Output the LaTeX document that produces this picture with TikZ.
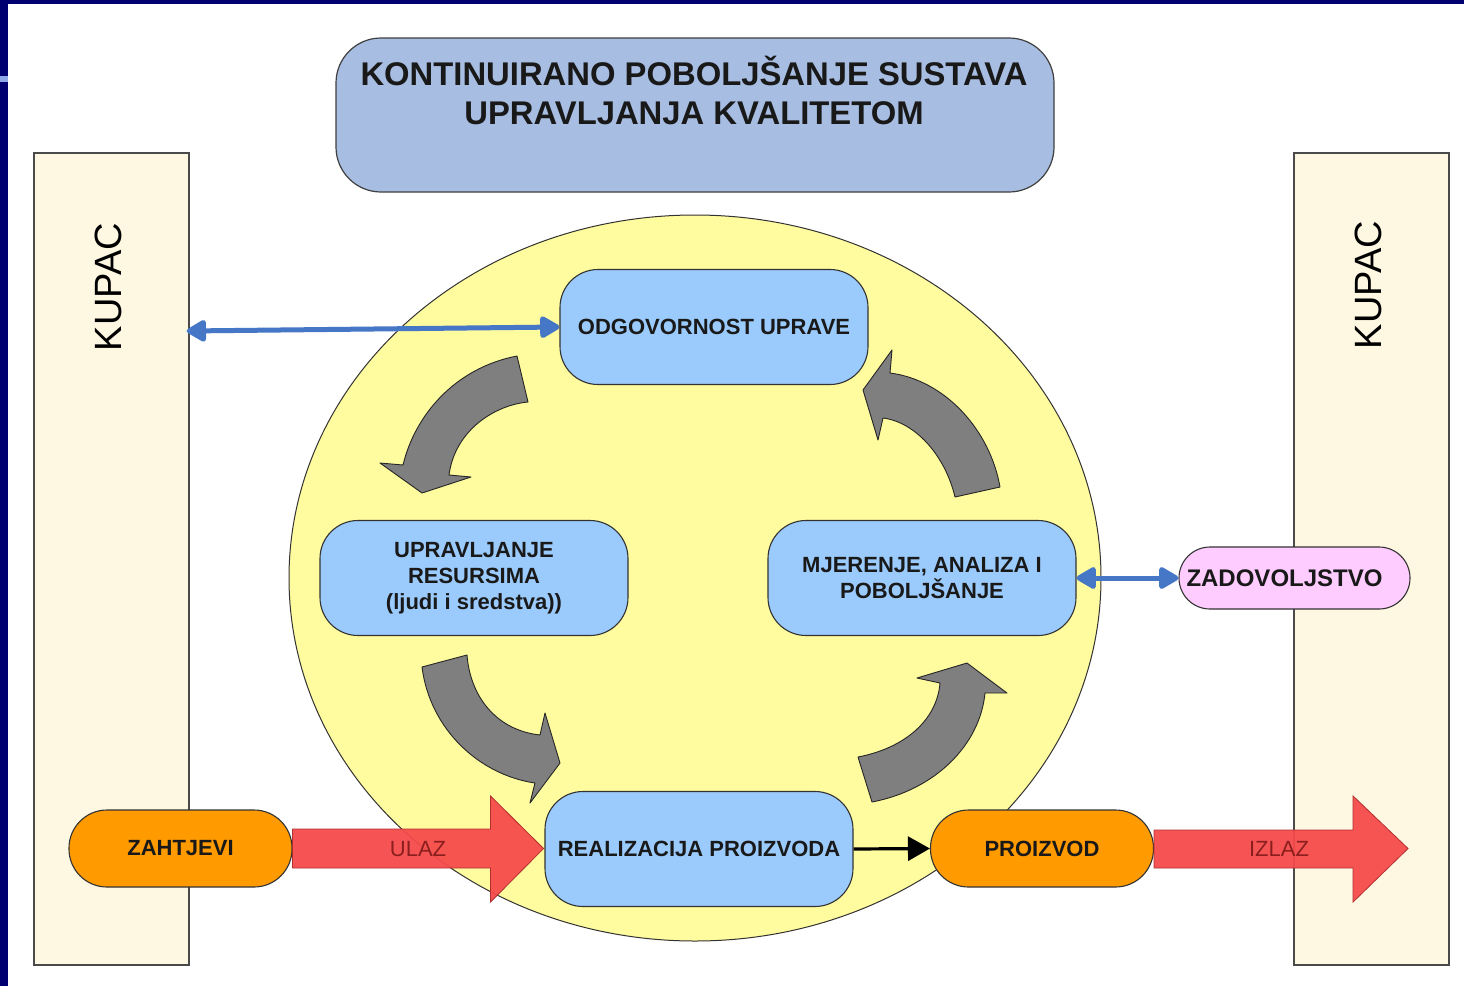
\documentclass[tikz,border=0pt]{standalone}
\usepackage{fontspec}
\setmainfont{Liberation Sans}
\usetikzlibrary{arrows.meta,shapes.geometric,calc}
\definecolor{navy}{HTML}{000070}
\definecolor{tickblue}{HTML}{8FA8E8}
\definecolor{cream}{HTML}{FEF7E2}
\definecolor{kborder}{HTML}{4A4A4A}
\definecolor{titlefill}{HTML}{A7BDE1}
\definecolor{yell}{HTML}{FFFB9F}
\definecolor{procblue}{HTML}{9BCBFC}
\definecolor{orangefill}{HTML}{FF9A00}
\definecolor{pinkfill}{HTML}{FFCCFF}
\definecolor{redfill}{HTML}{F64A4A}
\definecolor{redline}{HTML}{B03030}
\definecolor{redtext}{HTML}{8B1E1E}
\definecolor{arrowgray}{HTML}{7F7F7F}
\definecolor{linkblue}{HTML}{4676C6}
\begin{document}
\begin{tikzpicture}[x=1pt,y=-1pt,
  kupacbox/.style={draw=kborder,fill=cream,line width=1.4pt,minimum width=155pt,minimum height=812pt,inner sep=0pt},
  kupactext/.style={rotate=90,font=\fontsize{38}{42}\selectfont,text=black},
  procbox/.style={draw=black!80,fill=procblue,line width=1.1pt,rounded corners=38pt,minimum width=308pt,minimum height=115pt,align=center,inner sep=0pt,font=\bfseries\fontsize{22}{26}\selectfont,text=black!90},
  pillbox/.style={draw=black!80,line width=1.1pt,rounded corners=38pt,minimum width=223pt,minimum height=77pt,inner sep=0pt,font=\bfseries\fontsize{22}{26}\selectfont,text=black!90},
  redarrow/.style={fill=redfill,draw=redline,line width=0.8pt,fill opacity=0.94},
  redlabel/.style={font=\fontsize{22}{26}\selectfont,text=redtext},
  grayarrow/.style={fill=arrowgray,draw=black!85,line width=0.9pt,line join=round},
  bluelink/.style={draw=linkblue,line width=5pt,{Triangle[length=22pt,width=24pt,round]}-{Triangle[length=22pt,width=24pt,round]}},
  blacklink/.style={draw=black,line width=3.2pt,-{Triangle[length=22pt,width=24pt]}}
]
\useasboundingbox (0,0) rectangle (1464,986);
\fill[white] (0,0) rectangle (1464,986);
% frame
\fill[navy] (0,0) rectangle (1464,4);
\fill[navy] (0,0) rectangle (8,986);
\fill[tickblue] (0,76) rectangle (8,82);
% customer columns
\node[kupacbox] (kupL) at (111.5,559) {};
\node[kupacbox] (kupR) at (1371.5,559) {};
\node[kupactext] (kupLtext) at (108,287) {KUPAC};
\node[kupactext] (kupRtext) at (1368,285) {KUPAC};
% title
\node[draw=black!75,fill=titlefill,line width=1.2pt,rounded corners=45pt,minimum width=718pt,minimum height=154pt,inner sep=0pt] (titlebox) at (695,115) {};
\node[align=center,font=\bfseries\fontsize{32.8}{39}\selectfont,text=black!90] (titletext) at (694,90) {KONTINUIRANO POBOLJŠANJE SUSTAVA\\UPRAVLJANJA KVALITETOM};
% big ellipse
\node[draw=black!80,fill=yell,line width=1pt,ellipse,minimum width=812pt,minimum height=726pt,inner sep=0pt] (circ) at (695,578) {};
% curved gray arrows
\draw[grayarrow] (517,356) -- (528,402) .. controls (495,405) and (455,430) .. (449,475) -- (471,477) -- (422,493) -- (380,463) -- (403,465) .. controls (415,415) and (455,368) .. cycle;
\draw[grayarrow] (955,497) -- (1000,487) .. controls (990,430) and (945,380) .. (890,373) -- (892,350) -- (863,390) -- (878,440) -- (883,418) .. controls (915,422) and (945,455) .. cycle;
\draw[grayarrow] (422,667) -- (467,655) .. controls (470,695) and (495,730) .. (540,735) -- (545,713) -- (560,763) -- (530,803) -- (535,783) .. controls (480,775) and (430,730) .. cycle;
\draw[grayarrow] (858,757) -- (872,802) .. controls (935,790) and (980,745) .. (985,693) -- (1007,693) -- (967,663) -- (917,678) -- (940,683) .. controls (937,720) and (905,748) .. cycle;
% process boxes
\node[procbox] (odg) at (714,327) {ODGOVORNOST UPRAVE};
\node[procbox] (upr) at (474,578) {UPRAVLJANJE\\RESURSIMA\\(ljudi i sredstva))};
\node[procbox] (mje) at (922,578) {MJERENJE, ANALIZA I\\POBOLJŠANJE};
\node[procbox] (rea) at (699,849) {REALIZACIJA PROIZVODA};
% pills
\node[pillbox,fill=orangefill] (zah) at (180.5,848.5) {ZAHTJEVI};
\node[pillbox,fill=orangefill] (pro) at (1042,848.5) {PROIZVOD};
\node[pillbox,fill=pinkfill,rounded corners=31pt,minimum width=231pt,minimum height=62pt,font=\bfseries\fontsize{24}{28}\selectfont] (zad) at (1294.5,578) {ZADOVOLJSTVO\hspace*{20pt}};
% red block arrows
\draw[redarrow] ($(zah.east)+(0,-19.5)$) -- ($(zah.east)+(198,-19.5)$) -- ($(zah.east)+(198,-52.5)$) -- ($(zah.east)+(251,0)$) -- ($(zah.east)+(198,53.5)$) -- ($(zah.east)+(198,19.5)$) -- ($(zah.east)+(0,19.5)$) -- cycle;
\node[redlabel] (ulaz) at (418,849) {ULAZ};
\draw[redarrow] ($(pro.east)+(0,-18.5)$) -- ($(pro.east)+(199,-18.5)$) -- ($(pro.east)+(199,-52.5)$) -- ($(pro.east)+(254,0)$) -- ($(pro.east)+(199,53.5)$) -- ($(pro.east)+(199,19.5)$) -- ($(pro.east)+(0,19.5)$) -- cycle;
\node[redlabel] (izlaz) at (1279,849) {IZLAZ};
% links
\draw[bluelink] ([xshift=-3pt,yshift=228pt]kupL.east) -- (odg.west);
\draw[bluelink] (mje.east) -- (zad.west);
\draw[blacklink] (rea.east) -- (pro.west);
\end{tikzpicture}
\end{document}
